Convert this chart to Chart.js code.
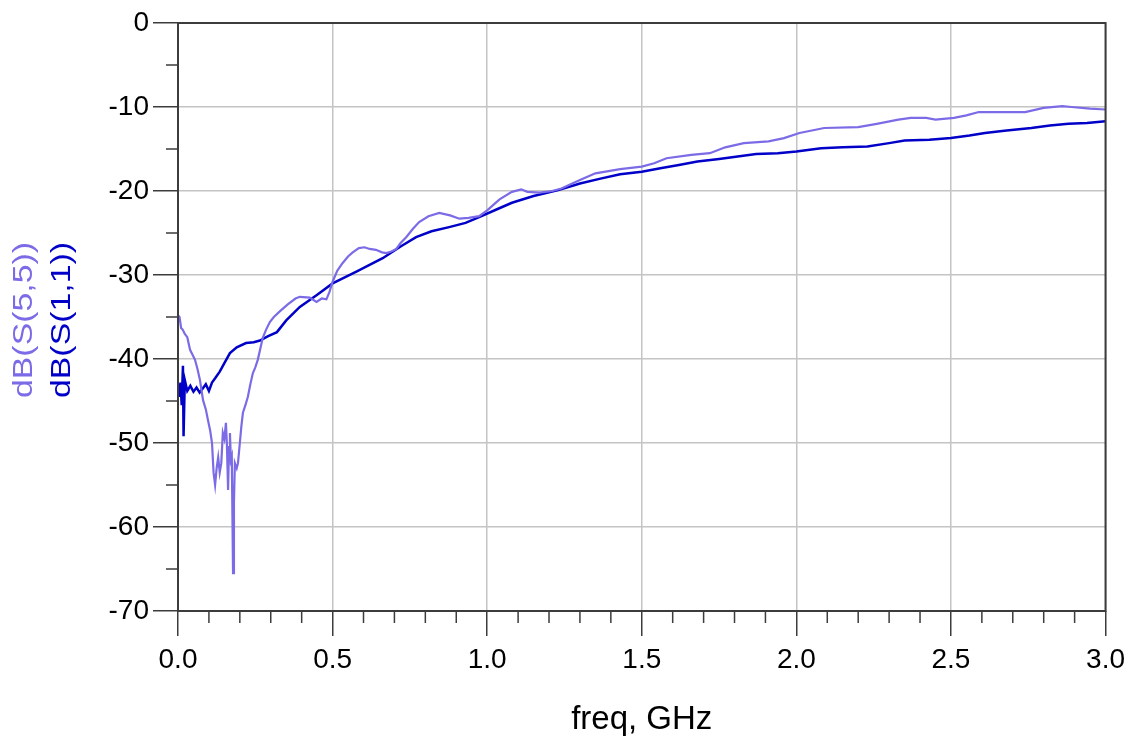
<!DOCTYPE html>
<html>
<head>
<meta charset="utf-8">
<script src="https://cdn.jsdelivr.net/npm/chart.js@4.4.1/dist/chart.umd.min.js"></script>
<style>
  html, body { margin: 0; padding: 0; background: #fff; }
  #wrap { width: 1132px; height: 740px; }
</style>
</head>
<body>
<div id="wrap"><canvas id="sparamChart" width="1132" height="740"></canvas></div>
<script>
// dB(S(1,1)) - dark blue trace
var freqS11 = [0.000, 0.004, 0.008, 0.012, 0.016, 0.018, 0.022, 0.03, 0.04, 0.05, 0.06, 0.07, 0.08, 0.09, 0.10, 0.11, 0.12, 0.135, 0.15, 0.168, 0.19, 0.22, 0.245, 0.265, 0.29, 0.32, 0.35, 0.394, 0.448, 0.50, 0.577, 0.662, 0.72, 0.77, 0.82, 0.877, 0.93, 0.974, 1.03, 1.08, 1.15, 1.23, 1.30, 1.37, 1.43, 1.50, 1.56, 1.62, 1.68, 1.75, 1.81, 1.87, 1.94, 2.00, 2.08, 2.15, 2.23, 2.30, 2.35, 2.43, 2.50, 2.56, 2.61, 2.68, 2.76, 2.82, 2.88, 2.94, 3.00];
var dbS11 = [-43.0, -44.5, -42.8, -45.5, -40.8, -49.2, -42.5, -43.8, -43.2, -43.9, -43.4, -44.0, -43.5, -43.0, -43.8, -42.8, -42.3, -41.5, -40.5, -39.3, -38.6, -38.1, -38.0, -37.8, -37.3, -36.8, -35.4, -33.8, -32.4, -31.0, -29.6, -28.0, -26.6, -25.5, -24.8, -24.3, -23.8, -23.1, -22.2, -21.4, -20.6, -19.9, -19.1, -18.5, -18.0, -17.7, -17.3, -16.9, -16.5, -16.2, -15.9, -15.6, -15.5, -15.3, -14.9, -14.8, -14.7, -14.3, -14.0, -13.9, -13.7, -13.4, -13.1, -12.8, -12.5, -12.2, -12.0, -11.9, -11.7];

// dB(S(5,5)) - light purple trace
var freqS55 = [0.000, 0.005, 0.010, 0.015, 0.022, 0.03, 0.039, 0.047, 0.055, 0.063, 0.071, 0.081, 0.09, 0.097, 0.104, 0.11, 0.115, 0.12, 0.125, 0.13, 0.135, 0.14, 0.145, 0.150, 0.155, 0.158, 0.162, 0.165, 0.168, 0.171, 0.174, 0.178, 0.181, 0.184, 0.19, 0.194, 0.2, 0.205, 0.21, 0.218, 0.226, 0.234, 0.242, 0.25, 0.258, 0.266, 0.274, 0.285, 0.297, 0.31, 0.33, 0.355, 0.38, 0.394, 0.426, 0.448, 0.465, 0.48, 0.49, 0.50, 0.515, 0.532, 0.55, 0.565, 0.585, 0.603, 0.62, 0.64, 0.66, 0.674, 0.69, 0.706, 0.72, 0.738, 0.76, 0.78, 0.81, 0.845, 0.88, 0.91, 0.94, 0.974, 1.00, 1.04, 1.08, 1.11, 1.13, 1.17, 1.21, 1.24, 1.30, 1.35, 1.43, 1.50, 1.54, 1.58, 1.66, 1.72, 1.77, 1.83, 1.91, 1.96, 2.01, 2.09, 2.20, 2.26, 2.33, 2.37, 2.42, 2.45, 2.51, 2.55, 2.59, 2.67, 2.74, 2.80, 2.86, 2.89, 2.95, 3.00];
var dbS55 = [-34.8, -35.0, -36.3, -36.5, -37.0, -37.4, -38.9, -39.5, -40.1, -41.2, -42.5, -44.9, -46.0, -47.3, -48.5, -50.0, -53.5, -55.0, -53.0, -51.7, -53.5, -52.4, -48.8, -49.5, -47.6, -50.0, -55.6, -50.5, -48.8, -52.0, -51.6, -65.5, -57.0, -52.4, -53.0, -52.4, -50.0, -48.0, -46.4, -45.5, -44.5, -43.0, -41.7, -41.0, -40.1, -38.8, -37.5, -36.5, -35.6, -35.0, -34.3, -33.5, -32.8, -32.6, -32.7, -33.2, -32.8, -32.9, -32.0, -30.8, -29.5, -28.6, -27.8, -27.3, -26.8, -26.7, -26.9, -27.0, -27.3, -27.4, -27.2, -26.9, -26.2, -25.5, -24.5, -23.7, -23.0, -22.6, -22.9, -23.3, -23.2, -23.0, -22.3, -21.0, -20.1, -19.8, -20.1, -20.2, -20.0, -19.7, -18.7, -17.9, -17.4, -17.1, -16.7, -16.1, -15.7, -15.5, -14.8, -14.3, -14.1, -13.7, -13.1, -12.5, -12.4, -12.0, -11.5, -11.3, -11.3, -11.5, -11.3, -11.0, -10.6, -10.6, -10.6, -10.1, -9.9, -10.0, -10.2, -10.3];

// axis ticks
var xMajorTicks = [0.0, 0.5, 1.0, 1.5, 2.0, 2.5, 3.0];
var yMajorTicks = [0, -10, -20, -30, -40, -50, -60, -70];

var purple = '#7b6be6';
var blue = '#0000c8';
var fontFamily = '"Liberation Sans", Arial, sans-serif';

function toPoints(xs, ys) {
    return xs.map(function (x, i) { return { x: x, y: ys[i] }; });
}

// frame, minor ticks and coloured y-axis labels
var framePlugin = {
    id: 'frame',
    afterDraw: function (chart) {
        var ctx = chart.ctx;
        var area = chart.chartArea;
        var xs = chart.scales.x;
        var ys = chart.scales.y;
        ctx.save();
        ctx.strokeStyle = '#3c3c3c';
        ctx.lineWidth = 2;
        ctx.strokeRect(area.left, area.top, area.right - area.left, area.bottom - area.top);

        // minor ticks
        ctx.lineWidth = 1.5;
        ctx.beginPath();
        for (var i = 1; i < 30; i++) {
            if (i % 5 === 0) continue;
            var px = xs.getPixelForValue(i / 10);
            ctx.moveTo(px, area.bottom);
            ctx.lineTo(px, area.bottom + 12);
        }
        for (var v = -5; v > -70; v -= 10) {
            var py = ys.getPixelForValue(v);
            ctx.moveTo(area.left, py);
            ctx.lineTo(area.left - 12, py);
        }
        ctx.stroke();

        // y-axis titles, one per trace
        var labels = [
            { text: 'dB(S(5,5))', color: purple, x: 24 },
            { text: 'dB(S(1,1))', color: blue, x: 62 }
        ];
        ctx.font = '28px ' + fontFamily;
        ctx.textAlign = 'center';
        ctx.textBaseline = 'middle';
        labels.forEach(function (l) {
            var w = ctx.measureText(l.text).width;
            ctx.save();
            ctx.translate(l.x, 320);
            ctx.rotate(-Math.PI / 2);
            ctx.scale(156 / w, 1);
            ctx.fillStyle = l.color;
            ctx.fillText(l.text, 0, 0);
            ctx.restore();
        });
        ctx.restore();
    }
};

var ctxChart = document.getElementById('sparamChart').getContext('2d');
var sparamChart = new Chart(ctxChart, {
    type: 'line',
    data: {
        datasets: [
            {
                label: 'dB(S(5,5))',
                data: toPoints(freqS55, dbS55),
                borderColor: purple,
                borderWidth: 2.2,
                pointRadius: 0,
                tension: 0
            },
            {
                label: 'dB(S(1,1))',
                data: toPoints(freqS11, dbS11),
                borderColor: blue,
                borderWidth: 2.5,
                pointRadius: 0,
                tension: 0
            }
        ]
    },
    options: {
        responsive: false,
        animation: false,
        layout: {
            padding: { top: 23, right: 25, left: 0, bottom: 0 }
        },
        plugins: {
            legend: { display: false },
            tooltip: { enabled: false }
        },
        scales: {
            x: {
                type: 'linear',
                min: 0,
                max: 3,
                afterBuildTicks: function (scale) {
                    scale.ticks = xMajorTicks.map(function (v) { return { value: v }; });
                },
                afterFit: function (scale) { scale.height = 129; },
                ticks: {
                    padding: 7,
                    color: '#000',
                    font: { family: fontFamily, size: 28 },
                    callback: function (value) { return Number(value).toFixed(1); }
                },
                grid: {
                    color: '#c4c4c4',
                    lineWidth: 1.5,
                    tickLength: 25,
                    tickColor: '#3c3c3c',
                    tickWidth: 1.5
                },
                border: { display: false },
                title: {
                    display: true,
                    text: 'freq, GHz',
                    color: '#000',
                    font: { family: fontFamily, size: 33 },
                    padding: { top: 0, bottom: 0 }
                }
            },
            y: {
                type: 'linear',
                min: -70,
                max: 0,
                afterBuildTicks: function (scale) {
                    scale.ticks = yMajorTicks.map(function (v) { return { value: v }; });
                },
                afterFit: function (scale) { scale.width = 178; },
                ticks: {
                    padding: 4,
                    color: '#000',
                    font: { family: fontFamily, size: 28 }
                },
                grid: {
                    color: '#c4c4c4',
                    lineWidth: 1.5,
                    tickLength: 25,
                    tickColor: '#3c3c3c',
                    tickWidth: 1.5
                },
                border: { display: false }
            }
        }
    },
    plugins: [framePlugin]
});
</script>
</body>
</html>
